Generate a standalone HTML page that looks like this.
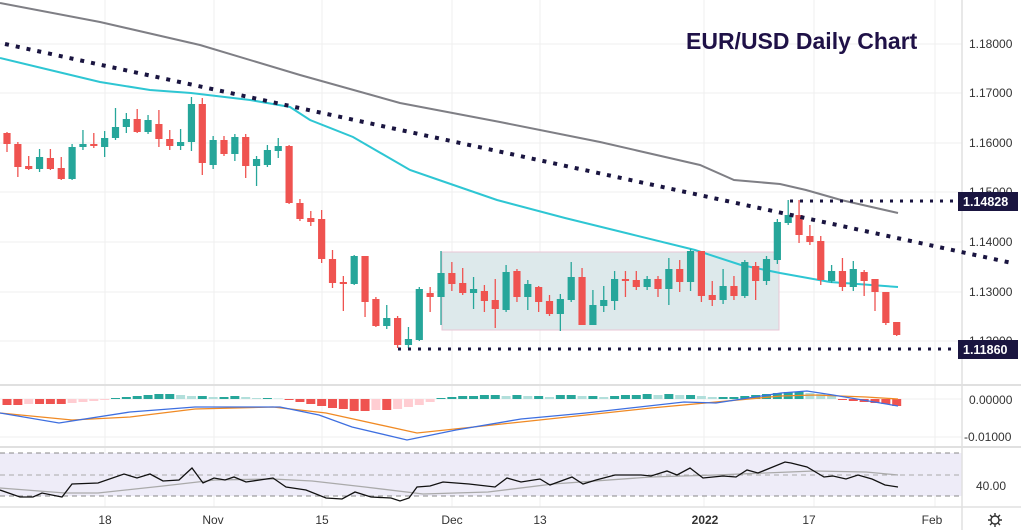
<!DOCTYPE html>
<html><head><meta charset="utf-8"><style>
html,body{margin:0;padding:0;background:#fff;}
svg{display:block;font-family:"Liberation Sans",sans-serif;}
</style></head><body>
<svg id="s" width="1021" height="530" viewBox="0 0 1021 530" xmlns="http://www.w3.org/2000/svg">
<rect width="1021" height="530" fill="#fff"/>
<g id="grid" stroke="#efefef" stroke-width="1"></g>
<rect x="0" y="453" width="962" height="43" fill="#eeecf8"/>
<g stroke="#888" stroke-dasharray="5,4" stroke-width="1">
<line x1="0" y1="453" x2="962" y2="453"/><line x1="0" y1="475" x2="962" y2="475" stroke="#aaa"/><line x1="0" y1="496" x2="962" y2="496"/>
</g>
<line x1="0" y1="385" x2="1021" y2="385" stroke="#e0e0e0" stroke-width="2"/>
<line x1="0" y1="447" x2="1021" y2="447" stroke="#e0e0e0" stroke-width="2"/>
<line x1="0" y1="507" x2="1021" y2="507" stroke="#e0e0e0" stroke-width="1.5"/>
<line x1="962" y1="0" x2="962" y2="530" stroke="#e0e0e0" stroke-width="1.5"/>
<rect x="442" y="252" width="337" height="78" fill="#dde9eb" stroke="#e8c6d6" stroke-width="1"/>
<polyline fill="none" stroke="#7f7f85" stroke-width="2" points="0,3 100,22 200,45 300,75 400,103 500,122 600,142 700,165 734,180 780,184 806,190 841,200 898,213"/>
<polyline fill="none" stroke="#2ec6d3" stroke-width="2" points="0,58 50,70 100,82 150,90 191,93 250,100 290,107 310,120 353,137 410,170 439,180 497,200 565,218 630,234 695,250 741,265 780,273 830,282 898,287"/>
<g id="candles"></g>
<line x1="5" y1="44" x2="1012" y2="263" stroke="#1a1540" stroke-width="4" stroke-dasharray="4,7"/>
<line x1="790" y1="201" x2="958" y2="201" stroke="#1a1540" stroke-width="3" stroke-dasharray="3,7"/>
<line x1="398" y1="349" x2="958" y2="349" stroke="#1a1540" stroke-width="3" stroke-dasharray="3,7"/>
<g id="hist"></g>
<polyline fill="none" stroke="#f08a24" stroke-width="1.3" points="0,413 72,420 130,417 195,409 273,407 326,413 417,433 521,422 651,408 781,396 814,395 866,397 898,399"/>
<polyline fill="none" stroke="#3e6fe0" stroke-width="1.3" points="0,413 59,423 130,412 195,407 280,407 319,415 352,427 407,440 456,430 521,419 586,413 684,402 716,403 781,393 807,391 833,395 898,406"/>
<polyline fill="none" stroke="#aaa" stroke-width="1.3" points="0,488 65,493 98,493 163,486 215,480 273,479 312,481 365,487 423,494 488,492 553,484 651,477 716,475 814,471 866,472 898,475"/>
<polyline fill="none" stroke="#111" stroke-width="1.3" points="0,490 20,497 33,497 42,493 62,497 72,484 98,483 124,474 137,478 150,474 163,481 179,480 192,468 203,483 214,478 225,480 234,477 246,482 273,478 286,487 306,490 326,498 342,499 355,492 371,497 391,498 400,501 409,498 417,487 430,486 443,482 469,484 495,487 507,478 521,482 540,479 550,485 572,477 583,484 596,480 615,475 641,475 651,476 667,471 677,475 690,468 703,478 723,476 736,477 747,470 758,473 785,462 791,463 807,467 824,477 833,476 846,479 858,475 872,479 885,485 898,487"/>
<text x="686" y="49" font-size="23" font-weight="bold" fill="#1f1147">EUR/USD Daily Chart</text>
<g font-size="12" fill="#333">
<text x="969" y="48">1.18000</text><text x="969" y="97">1.17000</text><text x="969" y="147">1.16000</text><text x="969" y="196">1.15000</text><text x="969" y="246">1.14000</text><text x="969" y="296">1.13000</text><text x="969" y="345">1.12000</text>
<text x="969" y="404">0.00000</text><text x="964" y="441">-0.01000</text><text x="976" y="490">40.00</text>
</g>
<rect x="958" y="192" width="60" height="19" fill="#1a1540"/>
<text x="963" y="206" font-size="12.5" font-weight="bold" fill="#fff">1.14828</text>
<rect x="958" y="340" width="60" height="19" fill="#1a1540"/>
<text x="963" y="354" font-size="12.5" font-weight="bold" fill="#fff">1.11860</text>
<g font-size="12" fill="#333" text-anchor="middle">
<text x="105" y="524">18</text><text x="213" y="524">Nov</text><text x="322" y="524">15</text><text x="452" y="524">Dec</text><text x="540" y="524">13</text><text x="705" y="524" font-weight="bold">2022</text><text x="809" y="524">17</text><text x="932" y="524">Feb</text>
</g>
<g stroke="#333" stroke-width="1.4" fill="none"><circle cx="995" cy="520" r="4"/><path d="M995 513v3M995 524v3M988 520h3M999 520h3M990 515l2 2M998 523l2 2M1000 515l-2 2M990 525l2-2"/></g>
</svg>
<script>
var ns="http://www.w3.org/2000/svg";
function el(p,t,a){var e=document.createElementNS(ns,t);for(var k in a)e.setAttribute(k,a[k]);p.appendChild(e);return e;}
var g=document.getElementById('grid');
[44,93,143,192,242,292,341,399,437].forEach(function(y){el(g,'line',{x1:0,y1:y,x2:962,y2:y});});
[105,214,322,452,540,704,814,935].forEach(function(x){el(g,'line',{x1:x,y1:0,x2:x,y2:507});});
var D=[[133,144,132,152],[144,167,142,177],[166,169,156,170],[169,157,149,172],[158,169,149,170],[168,179,157,180],[179,147,144,180],[147,144,130,150],[144,145,133,148],[147,138,131,157],[138,127,108,140],[127,119,113,133],[119,132,109,133],[132,120,115,134],[124,139,110,147],[139,146,130,150],[146,142,129,150],[142,104,97,151],[104,163,98,175],[165,140,136,169],[140,154,136,156],[154,137,134,161],[137,166,134,178],[166,159,156,186],[165,150,145,167],[151,146,138,158],[146,203,145,204],[203,219,199,221],[218,222,211,226],[219,259,210,263],[259,283,250,288],[282,283,276,311],[284,256,255,285],[256,302,256,317],[299,326,297,327],[326,318,305,329],[318,345,316,348],[345,339,327,348],[340,289,287,341],[293,297,287,312],[297,273,251,325],[273,284,262,291],[283,293,268,295],[293,289,277,309],[291,301,285,312],[300,309,279,328],[310,272,265,312],[271,297,269,302],[297,284,280,310],[287,302,286,312],[301,314,295,316],[314,299,294,331],[300,277,262,302],[277,325,268,325],[325,305,290,325],[306,300,286,312],[301,279,271,310],[279,281,271,297],[280,287,271,290],[287,279,276,290],[279,289,276,297],[289,269,258,305],[269,282,260,292],[282,251,249,291],[251,296,251,302],[295,300,281,306],[300,286,269,304],[286,296,276,300],[296,262,260,298],[266,281,262,300],[281,259,256,285],[260,222,219,264],[223,215,200,225],[215,235,200,243],[236,242,225,245],[241,280,236,285],[281,271,265,283],[271,287,258,291],[287,269,261,291],[272,281,270,296],[279,292,279,311],[292,323,292,325],[322,335,322,336]];
var c=document.getElementById('candles');
D.forEach(function(d,k){var x=7+k*10.85,o=d[0],cl=d[1],col=cl<o?'#26a69a':'#ef5350';
if(cl==o)cl=o+1;
el(c,'line',{x1:x,y1:d[2],x2:x,y2:d[3],stroke:col,'stroke-width':1.3});
var t=Math.min(o,cl),b=Math.max(o,cl);if(b-t<2)b=t+2;
el(c,'rect',{x:x-3.6,y:t,width:7.2,height:b-t,fill:col});});
var H=[-6,-6,-5,-5,-5,-5,-4,-3,-2,-1,1,2,3,4,5,5,4,3,3,2,2,3,2,1,1,0,-1,-3,-5,-7,-9,-10,-12,-12,-11,-11,-10,-8,-6,-3,1,2,3,3,4,4,3,4,3,3,2,4,4,3,3,2,3,4,4,5,4,5,4,4,3,2,2,2,3,4,5,6,7,7,6,5,4,-1,-2,-3,-4,-5,-7];
var h=document.getElementById('hist');
H.forEach(function(v,k){var x=7+k*10.85;var prev=k?H[k-1]:v;var col;
if(v>=0)col=v>=prev?'#26a69a':'#b2dfdb';else col=v<=prev?'#ef5350':'#ffcdd2';
if(v==0)v=0.5;
el(h,'rect',{x:x-4.5,y:v>0?399-v:399,width:9,height:Math.abs(v),fill:col});});
</script>
</body></html>
